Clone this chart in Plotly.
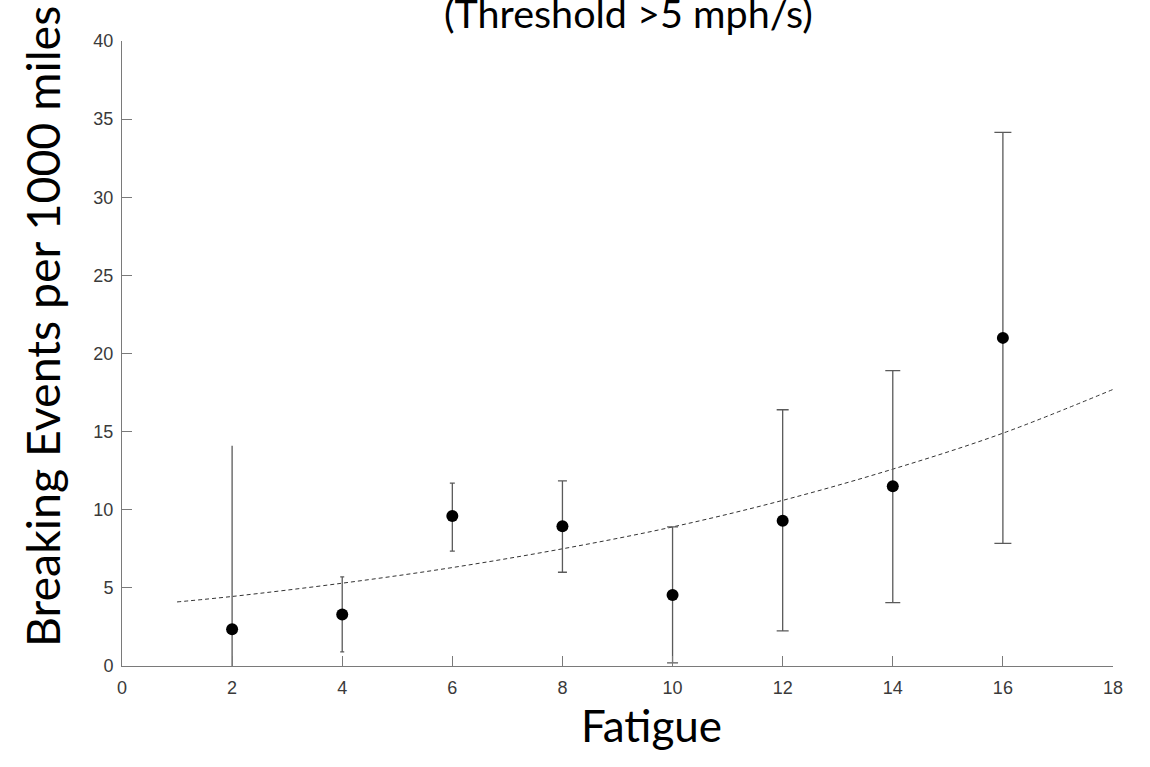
import plotly.graph_objects as go

# Data
fatigue = [2, 4, 6, 8, 10, 12, 14, 16]
events = [2.35, 3.3, 9.6, 8.95, 4.55, 9.3, 11.5, 21.0]
err_upper = [14.1, 5.7, 11.7, 11.85, 8.9, 16.4, 18.9, 34.15]
err_lower = [0.0, 0.9, 7.35, 6.0, 0.2, 2.25, 4.05, 7.85]

fit_x = [1, 2, 4, 6, 8, 10, 12, 14, 16, 18]
fit_y = [4.1, 4.45, 5.3, 6.3, 7.5, 8.9, 10.6, 12.6, 14.9, 17.7]

x_ticks = [0, 2, 4, 6, 8, 10, 12, 14, 16, 18]
y_ticks = [0, 5, 10, 15, 20, 25, 30, 35, 40]

# cap half-widths (px) vary per point in the reference
cap_w = [0, 2, 2.5, 4.5, 5.5, 6, 7.5, 8.5]

title_font = "Lato"
tick_font = "Liberation Sans"

fig = go.Figure()

fig.add_trace(go.Scatter(
    x=fit_x, y=fit_y, mode="lines",
    line=dict(color="#333333", width=1, dash="4px,3px", shape="spline"),
    hoverinfo="skip", showlegend=False,
))

for i in range(len(fatigue)):
    fig.add_trace(go.Scatter(
        x=[fatigue[i]], y=[events[i]], mode="markers",
        marker=dict(color="black", size=12),
        error_y=dict(
            type="data", symmetric=False,
            array=[err_upper[i] - events[i]],
            arrayminus=[events[i] - err_lower[i]],
            color="#5a5a5a", thickness=1.3, width=cap_w[i],
        ),
        showlegend=False,
    ))

axis_common = dict(
    showgrid=False, zeroline=False, showline=True,
    linecolor="#7a7a7a", linewidth=1,
    ticks="inside", ticklen=10, tickcolor="#7a7a7a", tickwidth=1,
    tickfont=dict(family=tick_font, size=18, color="#3a3a3a"),
)

fig.update_layout(
    width=1150, height=767,
    margin=dict(l=122, r=37, t=41, b=101),
    plot_bgcolor="white", paper_bgcolor="white",
    xaxis=dict(range=[0, 18], tickvals=x_ticks, ticklabelstandoff=5, **axis_common),
    yaxis=dict(range=[0, 40], tickvals=y_ticks, ticklabelstandoff=4, **axis_common),
    annotations=[
        dict(text="(Threshold >5 mph/s)", xref="paper", yref="paper",
             x=0.5106, y=1.046, xanchor="center", yanchor="middle",
             showarrow=False, font=dict(family=title_font, size=39.5, color="black")),
        dict(text="Fatigue", xref="paper", yref="paper",
             x=0.534, y=-0.094, xanchor="center", yanchor="middle",
             showarrow=False, font=dict(family=title_font, size=44, color="black")),
        dict(text="Breaking Events per 1000 miles", xref="paper", yref="paper",
             x=-0.0807, y=0.5424, xanchor="center", yanchor="middle", textangle=-90,
             showarrow=False, font=dict(family=title_font, size=46.5, color="black")),
    ],
)

fig.write_html("out.html")
